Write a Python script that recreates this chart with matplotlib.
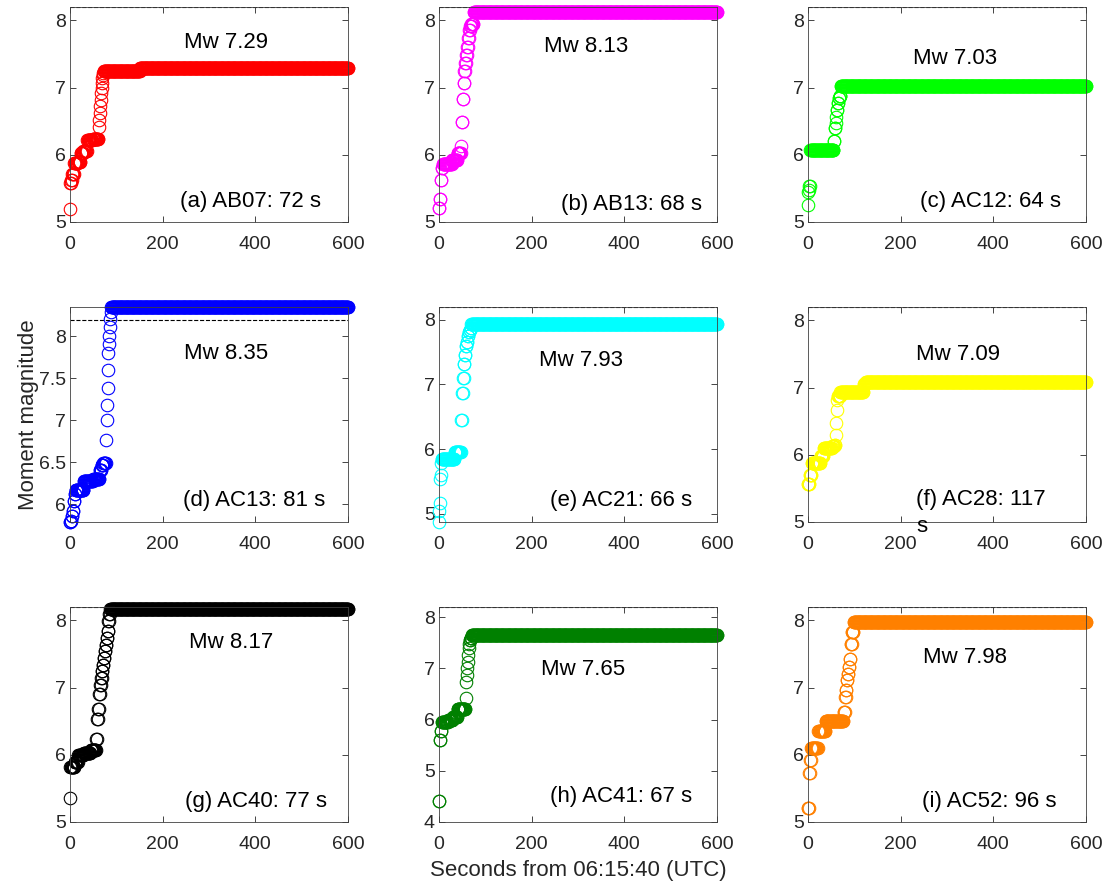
import numpy as np
import matplotlib.pyplot as plt

plt.rcParams['font.family'] = ['Liberation Sans', 'DejaVu Sans']

# onset time (s) of each magnitude estimate; a value holds until the next onset
t_a = [0, 1, 3, 5, 9, 17, 23, 29, 37, 49, 62, 63, 64, 65, 66, 67, 68, 69, 70, 71, 72, 73, 151]
mw_a = [5.19, 5.58, 5.62, 5.72, 5.88, 5.90, 6.03, 6.06, 6.22, 6.24, 6.42, 6.52, 6.62, 6.72,
        6.82, 6.92, 7.00, 7.07, 7.14, 7.19, 7.22, 7.24, 7.29]

t_b = [0, 2, 4, 6, 8, 28, 40, 48, 49, 51, 53, 55, 57, 59, 61, 63, 65, 67, 70, 75]
mw_b = [5.21, 5.34, 5.63, 5.81, 5.87, 5.92, 6.02, 6.13, 6.49, 6.83, 7.07, 7.24, 7.37, 7.49,
        7.61, 7.74, 7.86, 7.91, 7.94, 8.13]

t_c = [0, 1, 2, 3, 5, 56, 58, 60, 61, 62, 64, 66, 68, 71]
mw_c = [5.26, 5.44, 5.47, 5.53, 6.07, 6.20, 6.40, 6.48, 6.57, 6.67, 6.77, 6.85, 6.88, 7.03]

t_d = [0, 2, 4, 6, 8, 10, 12, 30, 50, 64, 68, 72, 78, 79, 80, 81, 82, 83, 84, 85, 86, 87, 88, 89]
mw_d = [5.79, 5.80, 5.86, 5.92, 6.04, 6.12, 6.17, 6.28, 6.30, 6.41, 6.47, 6.49, 6.77, 7.00,
        7.18, 7.38, 7.60, 7.80, 7.91, 8.01, 8.11, 8.21, 8.29, 8.35]

t_e = [0, 1, 2, 3, 4, 5, 6, 34, 48, 50, 52, 54, 56, 58, 60, 62, 64, 66, 68, 70]
mw_e = [4.87, 5.04, 5.16, 5.53, 5.60, 5.78, 5.84, 5.95, 6.45, 6.87, 7.10, 7.31, 7.46, 7.59,
        7.66, 7.75, 7.82, 7.85, 7.88, 7.93]

t_f = [0, 4, 8, 27, 34, 52, 58, 60, 61, 62, 63, 64, 70, 120, 125]
mw_f = [5.56, 5.70, 5.88, 5.98, 6.10, 6.13, 6.15, 6.30, 6.47, 6.67, 6.82, 6.87, 6.93, 7.05, 7.09]

t_g = [0, 1, 10, 18, 30, 45, 57, 59, 61, 63, 65, 67, 69, 71, 73, 75, 77, 79, 81, 83, 85, 87]
mw_g = [5.35, 5.82, 5.90, 6.00, 6.03, 6.07, 6.23, 6.53, 6.68, 6.91, 7.04, 7.14, 7.24, 7.34,
        7.44, 7.54, 7.64, 7.74, 7.84, 7.99, 8.09, 8.17]

t_h = [0, 2, 4, 6, 20, 30, 40, 58, 59, 60, 61, 62, 63, 64, 65, 66, 68, 71]
mw_h = [4.42, 5.60, 5.77, 5.95, 6.00, 6.05, 6.20, 6.42, 6.74, 6.87, 7.00, 7.13, 7.26, 7.39,
        7.48, 7.55, 7.60, 7.65]

t_i = [0, 3, 5, 7, 22, 38, 77, 80, 82, 84, 86, 88, 90, 92, 95, 99]
mw_i = [5.21, 5.73, 5.92, 6.10, 6.35, 6.50, 6.64, 6.86, 6.96, 7.11, 7.20, 7.30, 7.43, 7.65,
        7.83, 7.98]

labels = ["(a) AB07: 72 s", "(b) AB13: 68 s", "(c) AC12: 64 s",
          "(d) AC13: 81 s", "(e) AC21: 66 s", "(f) AC28: 117\ns",
          "(g) AC40: 77 s", "(h) AC41: 67 s", "(i) AC52: 96 s"]
onsets = [t_a, t_b, t_c, t_d, t_e, t_f, t_g, t_h, t_i]
levels = [mw_a, mw_b, mw_c, mw_d, mw_e, mw_f, mw_g, mw_h, mw_i]
colors = ["#ff0000", "#ff00ff", "#00ff00", "#0000ff", "#00ffff",
          "#ffff00", "#000000", "#008000", "#ff8000"]
ylims = [(5, 8.2), (5, 8.2), (5, 8.2), (5.79, 8.35), (4.87, 8.2),
         (5, 8.2), (5, 8.2), (4, 8.2), (5, 8.2)]
yticks = [[5, 6, 7, 8]] * 3 + [[6, 6.5, 7, 7.5, 8], [5, 6, 7, 8], [5, 6, 7, 8],
                               [5, 6, 7, 8], [4, 5, 6, 7, 8], [5, 6, 7, 8]]
ref_mw = 8.2
t_end = 600

# text placement in axes fractions
mw_pos = [(0.56, 0.833), (0.53, 0.815), (0.53, 0.76), (0.56, 0.786), (0.51, 0.75),
          (0.54, 0.777), (0.58, 0.837), (0.52, 0.707), (0.566, 0.767)]
lab_pos = [(0.396, 0.097), (0.44, 0.083), (0.404, 0.097), (0.406, 0.099), (0.40, 0.099),
           (0.39, 0.099), (0.414, 0.094), (0.40, 0.118), (0.41, 0.094)]


def expand(t_on, mw):
    t = np.arange(0, t_end + 1)
    idx = np.searchsorted(t_on, t, side="right") - 1
    return t, np.asarray(mw)[idx]


W, H = 1104, 884
fig = plt.figure(figsize=(W / 100, H / 100), dpi=100)
lefts = [70, 439, 808]
tops = [7, 307, 607]
aw, ah = 278, 215

axes = []
for k in range(9):
    r, c = divmod(k, 3)
    ax = fig.add_axes([lefts[c] / W, 1 - (tops[r] + ah) / H, aw / W, ah / H])
    axes.append(ax)
    t, mw = expand(onsets[k], levels[k])
    ax.plot([0, t_end], [ref_mw, ref_mw], "k--", lw=0.8, zorder=1)
    ax.plot(t, mw, "o", mfc="none", mec=colors[k], ms=9, mew=0.8,
            clip_on=False, zorder=2)
    ax.set_xlim(0, t_end)
    ax.set_ylim(*ylims[k])
    ax.set_xticks([0, 200, 400, 600])
    ax.set_yticks(yticks[k])
    ax.set_yticklabels([f"{v:g}" for v in yticks[k]])
    ax.tick_params(direction="in", top=True, right=True, length=4, width=0.6,
                   color="#262626", labelcolor="#262626", labelsize=14)
    ax.tick_params(axis="x", pad=10)
    ax.tick_params(axis="y", pad=3)
    for s in ax.spines.values():
        s.set_color("#404040")
        s.set_linewidth(0.6)
    ax.text(*mw_pos[k], f"Mw {levels[k][-1]:.2f}", transform=ax.transAxes,
            ha="center", va="center", fontsize=16)
    if "\n" in labels[k]:
        ax.text(lab_pos[k][0], 0.155, labels[k], transform=ax.transAxes,
                ha="left", va="top", fontsize=16, linespacing=1.4)
    else:
        ax.text(*lab_pos[k], labels[k], transform=ax.transAxes,
                ha="left", va="center", fontsize=16)

axes[3].set_ylabel("Moment magnitude", fontsize=16, color="#262626", labelpad=0)
axes[7].set_xlabel("Seconds from 06:15:40 (UTC)", fontsize=16, color="#262626", labelpad=5)

fig.savefig("out.png", dpi=100)
